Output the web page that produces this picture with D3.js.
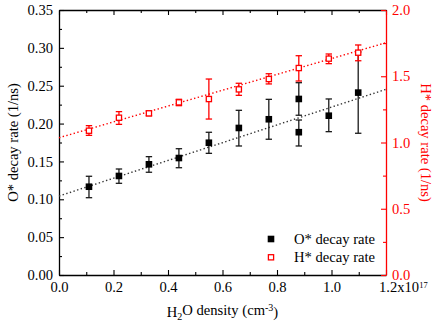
<!DOCTYPE html>
<html><head><meta charset="utf-8">
<script src="https://cdn.jsdelivr.net/npm/d3@7"></script>
<style>
html,body{margin:0;padding:0;background:#fff;}
svg{display:block;}
text{font-family:"Liberation Serif","Times New Roman",serif;}
</style></head>
<body>
<svg id="chart" width="436" height="325"></svg>
<script>
// ---- data ----
const xO   = [0.11, 0.22, 0.33, 0.44, 0.55, 0.66, 0.77, 0.88, 0.88, 0.99, 1.098];
const yO   = [0.1166, 0.1308, 0.1462, 0.1545, 0.1747, 0.1942, 0.2057, 0.2325, 0.1886, 0.2104, 0.2409];
const yOlo = [0.1021, 0.1211, 0.1357, 0.1417, 0.1607, 0.1704, 0.1793, 0.2110, 0.1704, 0.1893, 0.1872];
const yOhi = [0.1304, 0.1400, 0.1563, 0.1668, 0.1885, 0.2175, 0.2320, 0.2540, 0.2047, 0.2325, 0.2946];

const xH   = [0.11, 0.22, 0.33, 0.44, 0.55, 0.66, 0.77, 0.88, 0.99, 1.098];
const yH   = [1.089, 1.187, 1.220, 1.303, 1.328, 1.401, 1.479, 1.562, 1.633, 1.678];
const yHlo = [1.054, 1.137, 1.202, 1.278, 1.177, 1.356, 1.442, 1.464, 1.595, 1.617];
const yHhi = [1.127, 1.233, 1.238, 1.326, 1.479, 1.447, 1.519, 1.655, 1.668, 1.736];

const fitX = [0, 1.2];
const fitO = [0.1043, 0.2452];
const fitH = [1.036, 1.753];

const xMajor = [0, 0.2, 0.4, 0.6, 0.8, 1.0, 1.2];
const xMinor = [0.1, 0.3, 0.5, 0.7, 0.9, 1.1];
const yLMajor = [0, 0.05, 0.10, 0.15, 0.20, 0.25, 0.30, 0.35];
const yLMinor = [0.025, 0.075, 0.125, 0.175, 0.225, 0.275, 0.325];
const yRMajor = [0, 0.5, 1.0, 1.5, 2.0];
const yRMinor = [0.25, 0.75, 1.25, 1.75];

const legendLabels = ["O* decay rate", "H* decay rate"];

// ---- layout ----
const L = 59, R = 386, T = 10, B = 275;
const RED = "#ff0000";
const FS = "14.6px";

const svg = d3.select("#chart");
const x = d3.scaleLinear().domain([0, 1.2]).range([L, R]);
const yL = d3.scaleLinear().domain([0, 0.35]).range([B, T]);
const yR = d3.scaleLinear().domain([0, 2.0]).range([B, T]);

function styleAxis(g, color) {
  g.selectAll("path.domain").attr("stroke", color).attr("stroke-width", 1.3);
  g.selectAll(".tick line").attr("stroke", color).attr("stroke-width", 1.1);
  g.selectAll(".tick text").attr("fill", color).style("font-size", FS)
    .style("font-family", '"Liberation Serif","Times New Roman",serif');
}

// minor ticks
function minor(gen, vals, tr, color) {
  const g = svg.append("g").attr("transform", tr)
    .call(gen.tickValues(vals).tickFormat("").tickSizeInner(-3).tickSizeOuter(0));
  g.select("path.domain").remove();
  g.selectAll(".tick line").attr("stroke", color).attr("stroke-width", 1.1);
}
minor(d3.axisBottom(x), xMinor, `translate(0,${B})`, "#000");
minor(d3.axisTop(x), xMinor, `translate(0,${T})`, "#000");
minor(d3.axisLeft(yL), yLMinor, `translate(${L},0)`, "#000");
minor(d3.axisRight(yR), yRMinor, `translate(${R},0)`, RED);

// major axes
const gTop = svg.append("g").attr("transform", `translate(0,${T})`)
  .call(d3.axisTop(x).tickValues(xMajor).tickFormat("").tickSizeInner(-5).tickSizeOuter(0));
styleAxis(gTop, "#000");

const gBottom = svg.append("g").attr("transform", `translate(0,${B})`)
  .call(d3.axisBottom(x).tickValues(xMajor).tickFormat(d => d === 1.2 ? "" : d3.format(".1f")(d))
    .tickSizeInner(-5).tickSizeOuter(0).tickPadding(7));
styleAxis(gBottom, "#000");
// last label with exponent
const lastTick = gBottom.selectAll(".tick").filter(d => d === 1.2).select("text");
lastTick.attr("text-anchor", "start").attr("x", -7.5).text(null);
lastTick.append("tspan").text("1.2x10");
lastTick.append("tspan").attr("dy", "-4").style("font-size", "8.5px").text("17");

const gLeft = svg.append("g").attr("transform", `translate(${L},0)`)
  .call(d3.axisLeft(yL).tickValues(yLMajor).tickFormat(d3.format(".2f"))
    .tickSizeInner(-5).tickSizeOuter(0).tickPadding(6));
styleAxis(gLeft, "#000");

const gRight = svg.append("g").attr("transform", `translate(${R},0)`)
  .call(d3.axisRight(yR).tickValues(yRMajor).tickFormat(d3.format(".1f"))
    .tickSizeInner(-5).tickSizeOuter(0).tickPadding(6));
styleAxis(gRight, RED);

// axis titles
const xt = svg.append("text").attr("x", (L + R) / 2).attr("y", 316.5)
  .attr("text-anchor", "middle").style("font-size", FS).attr("fill", "#000");
xt.append("tspan").text("H");
xt.append("tspan").attr("dy", "0.3em").style("font-size", "10px").text("2");
xt.append("tspan").attr("dy", "-0.3em").text("O density (cm");
xt.append("tspan").attr("dy", "-0.45em").style("font-size", "10px").text("-3");
xt.append("tspan").attr("dy", "0.45em").text(")");

svg.append("text").attr("transform", `translate(18,${(T + B) / 2}) rotate(-90)`)
  .attr("text-anchor", "middle").style("font-size", FS).attr("fill", "#000")
  .text("O* decay rate (1/ns)");
svg.append("text").attr("transform", `translate(421,${(T + B) / 2}) rotate(90)`)
  .attr("text-anchor", "middle").style("font-size", FS).attr("fill", RED)
  .text("H* decay rate (1/ns)");

// fit lines
const lineO = d3.line().x(d => x(d[0])).y(d => yL(d[1]));
const lineH = d3.line().x(d => x(d[0])).y(d => yR(d[1]));
svg.append("path").datum(fitX.map((v, i) => [v, fitO[i]])).attr("d", lineO)
  .attr("fill", "none").attr("stroke", "#333").attr("stroke-width", 1.4).attr("stroke-dasharray", "1.4,2.4");
svg.append("path").datum(fitX.map((v, i) => [v, fitH[i]])).attr("d", lineH)
  .attr("fill", "none").attr("stroke", RED).attr("stroke-width", 1.4).attr("stroke-dasharray", "1.4,2.4");

// error bars
function errBars(xs, lo, hi, ys, color) {
  const g = svg.append("g").attr("stroke", color).attr("stroke-width", 1.3).attr("fill", "none");
  xs.forEach((xv, i) => {
    const cx = x(xv);
    g.append("line").attr("x1", cx).attr("x2", cx).attr("y1", ys(lo[i])).attr("y2", ys(hi[i]));
    g.append("line").attr("x1", cx - 3.2).attr("x2", cx + 3.2).attr("y1", ys(lo[i])).attr("y2", ys(lo[i]));
    g.append("line").attr("x1", cx - 3.2).attr("x2", cx + 3.2).attr("y1", ys(hi[i])).attr("y2", ys(hi[i]));
  });
}
errBars(xO, yOlo, yOhi, yL, "#1a1a1a");
errBars(xH, yHlo, yHhi, yR, RED);

// markers
const s = 6.6;
svg.append("g").selectAll("rect").data(xO.map((v, i) => [v, yO[i]])).join("rect")
  .attr("x", d => x(d[0]) - s / 2).attr("y", d => yL(d[1]) - s / 2)
  .attr("width", s).attr("height", s).attr("fill", "#000");
const so = 5.2;
svg.append("g").selectAll("rect").data(xH.map((v, i) => [v, yH[i]])).join("rect")
  .attr("x", d => x(d[0]) - so / 2).attr("y", d => yR(d[1]) - so / 2)
  .attr("width", so).attr("height", so).attr("fill", "#fff").attr("stroke", RED).attr("stroke-width", 1.3);

// legend
const lg = svg.append("g");
lg.append("rect").attr("x", 271 - s / 2).attr("y", 239 - s / 2).attr("width", s).attr("height", s).attr("fill", "#000");
lg.append("rect").attr("x", 271 - so / 2).attr("y", 257.3 - so / 2).attr("width", so).attr("height", so)
  .attr("fill", "#fff").attr("stroke", RED).attr("stroke-width", 1.3);
lg.append("text").attr("x", 294).attr("y", 243.5).style("font-size", FS).text(legendLabels[0]);
lg.append("text").attr("x", 294).attr("y", 261.5).style("font-size", FS).text(legendLabels[1]);
</script>
</body></html>
